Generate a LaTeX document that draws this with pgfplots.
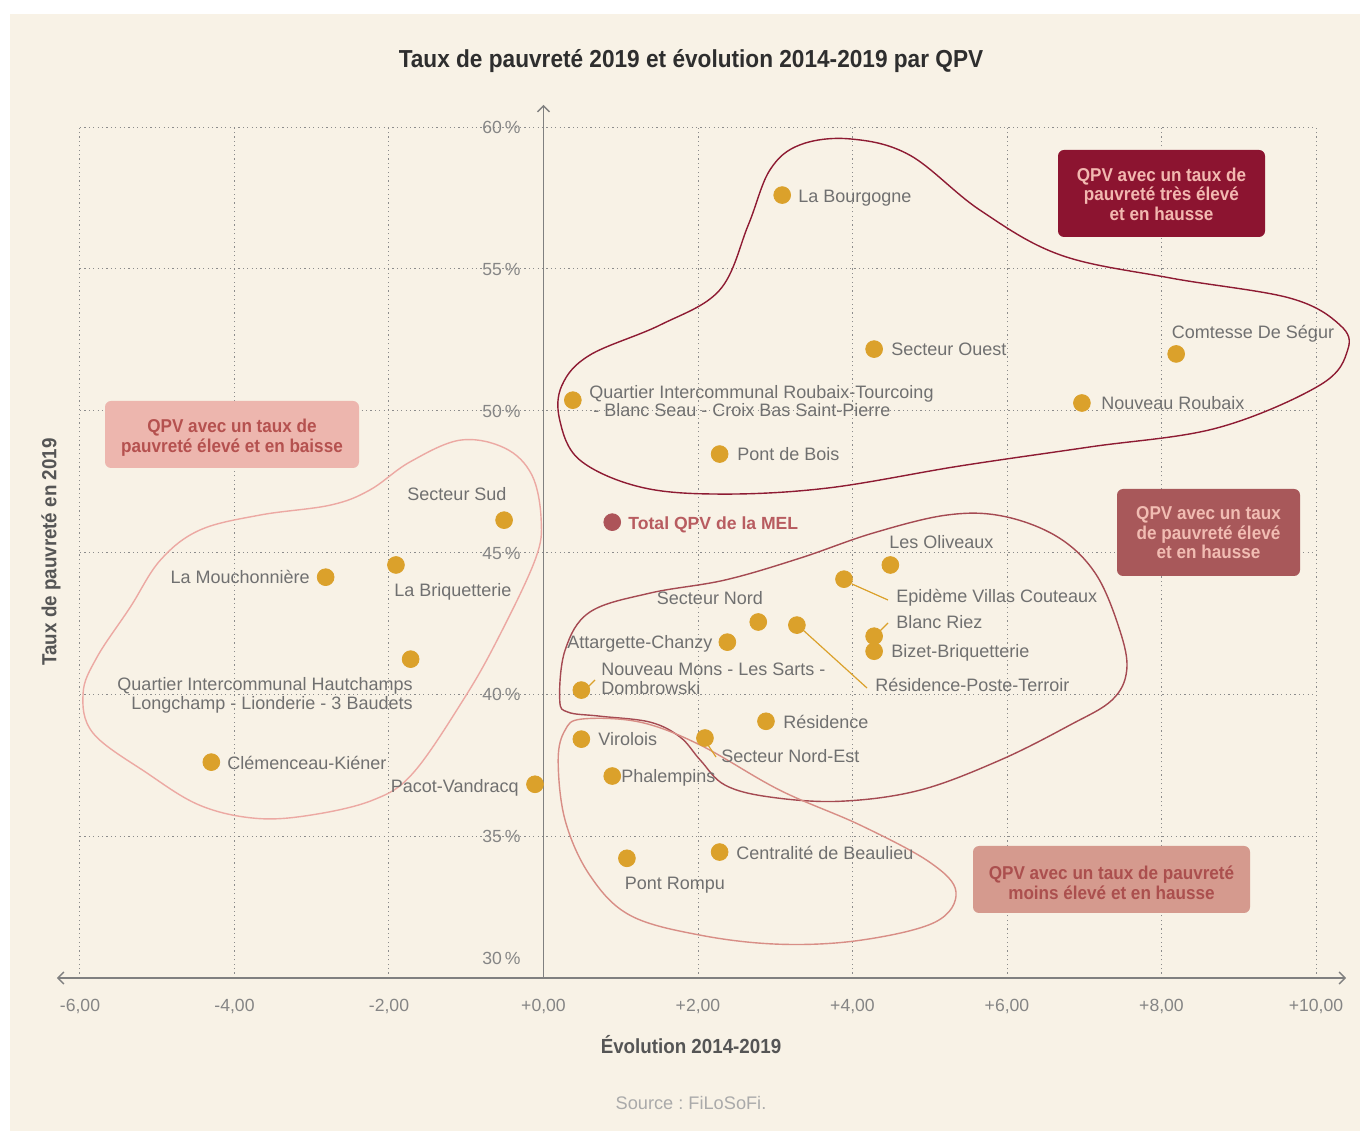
\documentclass[border=0pt]{standalone}
\usepackage{pgfplots}
\pgfplotsset{compat=1.18}
\usepackage{fontspec}
\setmainfont{Liberation Sans}
\newfontfamily\cond[FakeStretch=0.92]{Liberation Sans}
\usetikzlibrary{backgrounds,arrows.meta}
\frenchspacing

\definecolor{cream}{HTML}{F8F2E6}
\definecolor{gold}{HTML}{DBA12B}
\definecolor{totalc}{HTML}{AD5459}
\definecolor{totalt}{HTML}{B85C60}
\definecolor{gridc}{HTML}{8C8C8C}
\definecolor{axc}{HTML}{808080}
\definecolor{lblc}{HTML}{707070}
\definecolor{tickc}{HTML}{858585}
\definecolor{titc}{HTML}{2E2E2E}
\definecolor{axlab}{HTML}{555555}
\definecolor{srcc}{HTML}{AAAAAA}
\definecolor{blobA}{HTML}{8E1B33}
\definecolor{blobB}{HTML}{A54A52}
\definecolor{blobC}{HTML}{ECA9A3}
\definecolor{blobD}{HTML}{D88E86}
\definecolor{boxA}{HTML}{8C1430}
\definecolor{boxAt}{HTML}{F2B8B0}
\definecolor{boxB}{HTML}{A8585A}
\definecolor{boxBt}{HTML}{F1BCB2}
\definecolor{boxC}{HTML}{EDB6AE}
\definecolor{boxCt}{HTML}{B5514F}
\definecolor{boxD}{HTML}{D59A8E}
\definecolor{boxDt}{HTML}{AB4F4E}

\tikzset{
  lbl/.style={font=\fontsize{9.0}{10}\selectfont, text=lblc, inner sep=0pt},
  tck/.style={font=\fontsize{8.8}{10}\selectfont, text=tickc, inner sep=0pt},
  boxt/.style={font=\cond\bfseries\fontsize{9.3}{9.8}\selectfont, align=center, inner sep=0pt},
  lead/.style={draw=gold, line width=0.6pt},
}

\begin{document}
\begin{tikzpicture}
\begin{axis}[
  scale only axis, width=618pt, height=425.5pt,
  xmin=-6, xmax=10, ymin=30, ymax=60,
  xtick={-6,-4,...,10}, ytick={30,35,...,60},
  xticklabels={}, yticklabels={},
  major tick length=0pt,
  axis line style={draw=none},
  grid=major,
  major grid style={gridc, line width=0.5pt, dash pattern=on 0.6pt off 1.6pt},
  clip=false,
]
\coordinate (O) at (rel axis cs:0,0);

% groupes (contours)
\draw[blobA, line width=0.7pt] plot[smooth cycle, tension=0.6] coordinates {
  (axis cs:3.97,59.58) (axis cs:4.74,59.01) (axis cs:5.65,57.07) (axis cs:6.69,55.49)
  (axis cs:8.11,54.68) (axis cs:9.66,53.97) (axis cs:10.31,53.02) (axis cs:10.41,52.14)
  (axis cs:10.05,50.90) (axis cs:8.72,49.39) (axis cs:7.07,48.72) (axis cs:5.39,48.05)
  (axis cs:3.67,47.27) (axis cs:2.28,47.06) (axis cs:1.25,47.31) (axis cs:0.47,48.26)
  (axis cs:0.21,49.67) (axis cs:0.24,50.90) (axis cs:0.60,51.96) (axis cs:1.51,53.02)
  (axis cs:2.28,54.25) (axis cs:2.65,56.54) (axis cs:2.93,58.48) (axis cs:3.32,59.37)};
\draw[blobB, line width=0.7pt] plot[smooth cycle, tension=0.6] coordinates {
  (axis cs:0.21,39.80) (axis cs:0.28,41.56) (axis cs:0.60,42.90) (axis cs:1.38,43.57)
  (axis cs:2.35,44.03) (axis cs:3.32,44.80) (axis cs:4.26,45.68) (axis cs:5.22,46.32)
  (axis cs:5.95,46.28) (axis cs:6.66,45.54) (axis cs:7.15,44.24) (axis cs:7.46,42.26)
  (axis cs:7.55,40.85) (axis cs:7.36,39.80) (axis cs:6.81,38.91) (axis cs:5.91,37.68)
  (axis cs:4.87,36.62) (axis cs:3.84,36.23) (axis cs:2.93,36.38) (axis cs:2.35,36.80)
  (axis cs:2.03,37.68) (axis cs:1.77,38.49) (axis cs:1.38,39.02) (axis cs:0.73,39.23)
  (axis cs:0.32,39.37)};
\draw[blobC, line width=0.7pt] plot[smooth cycle, tension=0.6] coordinates {
  (axis cs:-1.08,48.96) (axis cs:-0.50,48.68) (axis cs:-0.15,47.73) (axis cs:-0.03,46.14)
  (axis cs:-0.11,44.73) (axis cs:-0.60,41.91) (axis cs:-1.04,39.80) (axis cs:-1.69,37.22)
  (axis cs:-2.21,36.27) (axis cs:-3.02,35.74) (axis cs:-3.73,35.63) (axis cs:-4.45,36.09)
  (axis cs:-5.13,37.22) (axis cs:-5.83,38.63) (axis cs:-5.96,40.04) (axis cs:-5.78,41.31)
  (axis cs:-5.35,43.07) (axis cs:-4.96,44.73) (axis cs:-4.45,45.79) (axis cs:-3.67,46.32)
  (axis cs:-2.76,46.67) (axis cs:-2.25,47.20) (axis cs:-1.73,48.19)};
\draw[blobD, line width=0.7pt] plot[smooth cycle, tension=0.6] coordinates {
  (axis cs:0.50,39.13) (axis cs:1.25,39.02) (axis cs:2.03,38.21) (axis cs:3.06,36.62)
  (axis cs:4.10,35.39) (axis cs:5.00,34.08) (axis cs:5.34,33.03) (axis cs:5.07,31.97)
  (axis cs:4.10,31.33) (axis cs:3.06,31.19) (axis cs:2.03,31.51) (axis cs:1.12,32.21)
  (axis cs:0.60,33.62) (axis cs:0.28,35.56) (axis cs:0.19,37.68) (axis cs:0.28,38.74)};

% axes
\draw[axc, line width=0.75pt, -{Straight Barb[length=3pt,width=6pt]}]
  (axis cs:0,30) -- (axis cs:0,60.78);
\draw[axc, line width=0.75pt, {Straight Barb[length=3pt,width=6pt]}-{Straight Barb[length=3pt,width=6pt]}]
  (axis cs:-6.30,30) -- (axis cs:10.39,30);

% QPV
\addplot[only marks, mark=*, mark size=4.2pt, color=gold] coordinates {
  (3.09,57.60) (4.28,52.17) (8.19,52.00) (6.97,50.27) (0.38,50.37) (2.28,48.47)
  (-0.51,46.14) (4.49,44.56) (3.89,44.06) (-2.82,44.13) (-1.91,44.56) (2.78,42.55)
  (3.28,42.44) (4.28,42.05) (4.28,41.52) (2.38,41.84) (-1.72,41.24) (0.49,40.15)
  (2.88,39.05) (0.49,38.42) (2.09,38.46) (-4.30,37.61) (0.89,37.12) (-0.11,36.83)
  (2.28,34.44) (1.08,34.22)};
% Total QPV de la MEL
\addplot[only marks, mark=*, mark size=4.2pt, color=totalc] coordinates {
  (0.89,46.07)};
\end{axis}

\begin{scope}[shift={(O)}, x=0.5pt, y=-0.5pt, shift={(-80,-978)}]
  % fond
  \begin{scope}[on background layer]
    \fill[white] (0,0) rectangle (1362,1131);
    \fill[cream] (10,14) rectangle (1360,1131);
  \end{scope}

  % titres
  \node[font=\cond\bfseries\fontsize{12.3}{14}\selectfont, text=titc] at (691,61)
    {Taux de pauvreté 2019 et évolution 2014-2019 par QPV};
  \node[font=\cond\bfseries\fontsize{10.2}{12}\selectfont, text=axlab] at (691,1045)
    {Évolution 2014-2019};
  \node[font=\cond\bfseries\fontsize{10.2}{12}\selectfont, text=axlab, rotate=90] at (51,552)
    {Taux de pauvreté en 2019};
  \node[font=\fontsize{9.1}{11}\selectfont, text=srcc] at (691,1103) {Source : FiLoSoFi.};

  % graduations
  \foreach \v/\p in {60/127, 55/269, 50/411, 45/553, 40/694, 35/836, 30/958}
    \node[tck, anchor=east] at (521,\p) {\v\,\%};
  \foreach \l/\p in {{-6,00}/80, {-4,00}/234.5, {-2,00}/389, {+0,00}/543.5, {+2,00}/698,
                     {+4,00}/852.5, {+6,00}/1007, {+8,00}/1161.5, {+10,00}/1316}
    \node[tck] at (\p,1006) {\l};

  % cartouches
  \fill[boxA, rounded corners=3pt] (1058,150) rectangle (1265,237);
  \node[boxt, text=boxAt] at (1161.5,194) {QPV avec un taux de\\pauvreté très élevé\\et en hausse};
  \fill[boxC, rounded corners=3pt] (105,401) rectangle (359,468);
  \node[boxt, text=boxCt] at (232,437.5) {QPV avec un taux de\\pauvreté élevé et en baisse};
  \fill[boxB, rounded corners=3pt] (1117,489) rectangle (1300,576);
  \node[boxt, text=boxBt] at (1208.5,533) {QPV avec un taux\\de pauvreté élevé\\et en hausse};
  \fill[boxD, rounded corners=3pt] (973,846) rectangle (1250,913);
  \node[boxt, text=boxDt] at (1111.5,883) {QPV avec un taux de pauvreté\\moins élevé et en hausse};

  % traits de rappel
  \draw[lead] (852,584) -- (888,600);
  \draw[lead] (880,631) -- (888,623);
  \draw[lead] (803,630) -- (867,688);
  \draw[lead] (588,687) -- (595,680);
  \draw[lead] (708,745) -- (716,757);

  % étiquettes
  \node[lbl, anchor=base west] at (798,203) {La Bourgogne};
  \node[lbl, anchor=base west] at (891,356) {Secteur Ouest};
  \node[lbl, anchor=base] at (1253,339) {Comtesse De Ségur};
  \node[lbl, anchor=base west] at (1101,410) {Nouveau Roubaix};
  \node[lbl, anchor=base west] at (589,399) {Quartier Intercommunal Roubaix-Tourcoing};
  \node[lbl, anchor=base west] at (593,417) {- Blanc Seau - Croix Bas Saint-Pierre};
  \node[lbl, anchor=base west] at (737,461) {Pont de Bois};
  \node[lbl, anchor=base west, text=totalt, font=\bfseries\fontsize{8.8}{10}\selectfont] at (628,530) {Total QPV de la MEL};
  \node[lbl, anchor=base] at (457,501) {Secteur Sud};
  \node[lbl, anchor=base west] at (889,549) {Les Oliveaux};
  \node[lbl, anchor=base west] at (896,603) {Epidème Villas Couteaux};
  \node[lbl, anchor=base east] at (310,584) {La Mouchonnière};
  \node[lbl, anchor=base west] at (394,597) {La Briquetterie};
  \node[lbl, anchor=base] at (710,605) {Secteur Nord};
  \node[lbl, anchor=base west] at (875,692) {Résidence-Poste-Terroir};
  \node[lbl, anchor=base west] at (896,629) {Blanc Riez};
  \node[lbl, anchor=base west] at (891,658) {Bizet-Briquetterie};
  \node[lbl, anchor=base west] at (567,649) {Attargette-Chanzy};
  \node[lbl, anchor=base east] at (413,691) {Quartier Intercommunal Hautchamps};
  \node[lbl, anchor=base east] at (413,710) {Longchamp - Lionderie - 3 Baudets};
  \node[lbl, anchor=base west] at (601,676) {Nouveau Mons - Les Sarts -};
  \node[lbl, anchor=base west] at (601,695) {Dombrowski};
  \node[lbl, anchor=base west] at (783,729) {Résidence};
  \node[lbl, anchor=base west] at (598,746) {Virolois};
  \node[lbl, anchor=base west] at (721,763) {Secteur Nord-Est};
  \node[lbl, anchor=base west] at (227,770) {Clémenceau-Kiéner};
  \node[lbl, anchor=base west] at (621,783) {Phalempins};
  \node[lbl, anchor=base east] at (519,793) {Pacot-Vandracq};
  \node[lbl, anchor=base west] at (736,860) {Centralité de Beaulieu};
  \node[lbl, anchor=base] at (675,890) {Pont Rompu};
\end{scope}
\end{tikzpicture}
\end{document}
